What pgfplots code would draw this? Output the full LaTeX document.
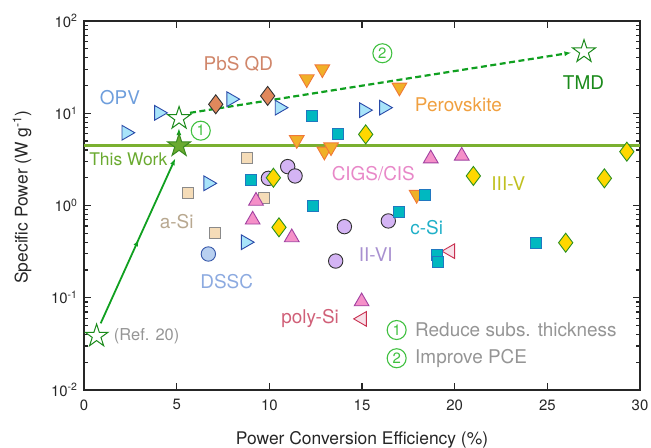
\documentclass[border=0pt]{standalone}
\usepackage{pgfplots}
\pgfplotsset{compat=1.18}
\usepackage{fontspec}
\setmainfont{TeX Gyre Heros}
\usetikzlibrary{arrows.meta}

\pgfdeclareplotmark{pstar}{%
  \pgfpathmoveto{\pgfpointpolar{90}{\pgfplotmarksize}}%
  \pgfpathlineto{\pgfpointpolar{126}{0.382\pgfplotmarksize}}%
  \pgfpathlineto{\pgfpointpolar{162}{\pgfplotmarksize}}%
  \pgfpathlineto{\pgfpointpolar{198}{0.382\pgfplotmarksize}}%
  \pgfpathlineto{\pgfpointpolar{234}{\pgfplotmarksize}}%
  \pgfpathlineto{\pgfpointpolar{270}{0.382\pgfplotmarksize}}%
  \pgfpathlineto{\pgfpointpolar{306}{\pgfplotmarksize}}%
  \pgfpathlineto{\pgfpointpolar{342}{0.382\pgfplotmarksize}}%
  \pgfpathlineto{\pgfpointpolar{18}{\pgfplotmarksize}}%
  \pgfpathlineto{\pgfpointpolar{54}{0.382\pgfplotmarksize}}%
  \pgfpathclose
  \pgfusepathqfillstroke
}

\definecolor{opvF}{HTML}{A8E4FA}\definecolor{opvE}{HTML}{2A4AA8}\definecolor{opvT}{HTML}{6E9EDC}
\definecolor{dssF}{HTML}{B8D0F0}\definecolor{dssE}{HTML}{3556A8}\definecolor{dssT}{HTML}{8CAAE0}
\definecolor{pbsF}{HTML}{E0885C}\definecolor{pbsE}{HTML}{333333}\definecolor{pbsT}{HTML}{D0866A}
\definecolor{perF}{HTML}{F0B028}\definecolor{perE}{HTML}{F07838}\definecolor{perT}{HTML}{F0A040}
\definecolor{csiF}{HTML}{00B8C0}\definecolor{csiE}{HTML}{2078C0}\definecolor{csiT}{HTML}{20B0C8}
\definecolor{asiF}{HTML}{F5DCB8}\definecolor{asiE}{HTML}{8A8A8A}\definecolor{asiT}{HTML}{B8A890}
\definecolor{cigF}{HTML}{F590C8}\definecolor{cigE}{HTML}{A040A0}\definecolor{cigT}{HTML}{E888C8}
\definecolor{iviF}{HTML}{D4B4F4}\definecolor{iviE}{HTML}{303030}\definecolor{iviT}{HTML}{A890D0}
\definecolor{iiiF}{HTML}{FFD700}\definecolor{iiiE}{HTML}{2A9020}\definecolor{iiiT}{HTML}{C0C020}
\definecolor{psiF}{HTML}{F8E0E8}\definecolor{psiE}{HTML}{C83050}\definecolor{psiT}{HTML}{D06078}
\definecolor{twF}{HTML}{6AAA30}\definecolor{twE}{HTML}{3A8A20}\definecolor{twL}{HTML}{7AB030}
\definecolor{tmd}{HTML}{1A8A1A}\definecolor{arr}{HTML}{10A020}\definecolor{circ}{HTML}{40C040}
\definecolor{gtxt}{HTML}{959595}\definecolor{axc}{HTML}{262626}

\begin{document}
\begin{tikzpicture}
\begin{axis}[
  scale only axis, width=556bp, height=369bp,
  xmin=0, xmax=30, ymode=log, ymin=0.01, ymax=100,
  xtick={0,5,10,15,20,25,30},
  xticklabels={0,5,10,15,20,25,30},
  ytick={0.01,0.1,1,10,100},
  yticklabels={10\textsuperscript{-2},10\textsuperscript{-1},10\textsuperscript{0},10\textsuperscript{1},10\textsuperscript{2}},
  tick align=inside,
  major tick length=7bp, minor tick length=4bp,
  axis line style={line width=1.8bp, color=axc},
  every tick/.style={line width=1.1bp, color=axc},
  tick label style={font=\fontsize{15}{18}\selectfont, text=axc},
  xticklabel style={yshift=-6bp},
  yticklabel style={xshift=-3bp},
  xlabel={Power Conversion Efficiency (\%)},
  ylabel={Specific Power (W g\textsuperscript{-1})},
  label style={font=\fontsize{17.5}{20}\selectfont, text=axc},
  xlabel style={at={(axis description cs:0.5,-0.135)}, anchor=center},
  ylabel style={at={(axis description cs:-0.1115,0.523)}, anchor=center},
  clip=false,
  mark options={solid},
]
% This Work line
\addplot[twL, line width=3bp] coordinates {(0,4.45) (30,4.45)};
% arrows
\addplot[arr, line width=1.8bp, -{Latex[length=7bp,width=5bp]}] coordinates {(0.9,0.0528) (2.95,0.43)};
\addplot[arr, line width=1.8bp, -{Latex[length=7bp,width=5bp]}] coordinates {(2.85,0.39) (4.93,3.25)};
\addplot[arr, line width=1.8bp, -{Latex[length=7bp,width=5bp]}] coordinates {(5.12,4.6) (5.12,6.9)};
\addplot[arr, line width=2.2bp, dash pattern=on 6bp off 3.5bp, -{Latex[length=7bp,width=5bp]}]
  coordinates {(5.72,10.1) (26.3,45.4)};

% a-Si
\addplot[only marks, mark=square*, mark size=5.5bp, mark options={fill=asiF, draw=asiE, line width=0.9bp}]
  coordinates {(8.78,3.3) (5.6,1.38) (9.71,1.22) (7.07,0.51)};
% DSSC
\addplot[only marks, mark=*, mark size=7.2bp, mark options={fill=dssF, draw=dssE, line width=0.9bp}]
  coordinates {(6.71,0.298)};
% II-VI
\addplot[only marks, mark=*, mark size=7.2bp, mark options={fill=iviF, draw=iviE, line width=0.9bp}]
  coordinates {(9.95,1.97) (10.99,2.64) (11.39,2.09) (14.05,0.59) (13.58,0.25) (16.42,0.68)};
% OPV
\addplot[only marks, mark=triangle*, mark size=8.5bp, mark options={rotate=-90, fill=opvF, draw=opvE, line width=0.9bp}]
  coordinates {(2.28,6.15) (4.04,10.1) (7.94,14.2) (10.55,11.5) (15.1,10.8) (16.18,11.5) (6.7,1.74) (8.72,0.40)};
% PbS QD
\addplot[only marks, mark=diamond*, mark size=9.5bp, mark options={fill=pbsF, draw=pbsE, line width=0.9bp}]
  coordinates {(7.11,12.5) (9.91,15.4)};
% CIGS/CIS
\addplot[only marks, mark=triangle*, mark size=8.5bp, mark options={fill=cigF, draw=cigE, line width=0.9bp}]
  coordinates {(9.28,1.12) (9.1,0.70) (11.21,0.45) (18.71,3.22) (20.38,3.45) (14.98,0.091)};
% poly-Si
\addplot[only marks, mark=triangle*, mark size=8.5bp, mark options={rotate=90, fill=psiF, draw=psiE, line width=0.9bp}]
  coordinates {(15.01,0.059) (19.77,0.32)};
% Perovskite
\addplot[only marks, mark=triangle*, mark size=8.5bp, mark options={rotate=180, fill=perF, draw=perE, line width=0.9bp}]
  coordinates {(12.02,23.5) (12.86,30.1) (17.02,19.1) (11.48,5.15) (12.97,3.86) (13.33,4.3) (17.95,1.31)};
% c-Si
\addplot[only marks, mark=square*, mark size=5.5bp, mark options={fill=csiF, draw=csiE, line width=0.9bp}]
  coordinates {(12.29,9.4) (13.69,5.9) (9.0,1.89) (12.38,1.0) (18.4,1.3) (17.0,0.86) (19.03,0.29) (19.12,0.246) (24.39,0.395)};
% III-V
\addplot[only marks, mark=diamond*, mark size=9.5bp, mark options={fill=iiiF, draw=iiiE, line width=0.9bp}]
  coordinates {(10.22,2.0) (15.2,5.9) (10.52,0.58) (21.01,2.09) (28.08,1.97) (29.29,3.83) (25.99,0.395)};
% stars
\addplot[only marks, mark=pstar, mark size=12bp, mark options={fill=white, draw=tmd, line width=1bp}]
  coordinates {(5.13,8.8) (0.68,0.0385) (26.98,46.5)};
\addplot[only marks, mark=pstar, mark size=12bp, mark options={fill=twF, draw=twE, line width=1bp}]
  coordinates {(5.13,4.45)};

% labels
\node[font=\fontsize{19}{22}\selectfont, text=opvT] at (axis cs:1.94,14.6) {OPV};
\node[font=\fontsize{19}{22}\selectfont, text=pbsT] at (axis cs:8.33,33.9) {PbS QD};
\node[font=\fontsize{17.5}{20}\selectfont, text=twF] at (axis cs:2.39,3.17) {This Work};
\node[font=\fontsize{19}{22}\selectfont, text=tmd] at (axis cs:26.95,21.4) {TMD};
\node[font=\fontsize{19}{22}\selectfont, text=perT] at (axis cs:20.2,12.5) {Perovskite};
\node[font=\fontsize{19}{22}\selectfont, text=cigT] at (axis cs:15.61,2.23) {CIGS/CIS};
\node[font=\fontsize{19}{22}\selectfont, text=iiiT] at (axis cs:22.9,1.74) {III-V};
\node[font=\fontsize{19}{22}\selectfont, text=asiT] at (axis cs:5.0,0.667) {a-Si};
\node[font=\fontsize{19}{22}\selectfont, text=csiT] at (axis cs:18.49,0.58) {c-Si};
\node[font=\fontsize{19}{22}\selectfont, text=dssT] at (axis cs:7.70,0.149) {DSSC};
\node[font=\fontsize{19}{22}\selectfont, text=iviT] at (axis cs:15.74,0.29) {II-VI};
\node[font=\fontsize{19}{22}\selectfont, text=psiT] at (axis cs:12.2,0.0598) {poly-Si};
\node[font=\fontsize{16.5}{19}\selectfont, text=gtxt] at (axis cs:3.38,0.0385) {(Ref. 20)};
% circled numbers
\node[circle, draw=circ, line width=1.1bp, text=circ, inner sep=0pt, minimum size=19bp, font=\fontsize{15}{15}\selectfont] at (axis cs:6.30,6.47) {1};
\node[circle, draw=circ, line width=1.1bp, text=circ, inner sep=0pt, minimum size=19bp, font=\fontsize{15}{15}\selectfont] at (axis cs:16.1,44.7) {2};
\node[circle, draw=circ, line width=1.1bp, text=circ, inner sep=0pt, minimum size=19bp, font=\fontsize{15}{15}\selectfont] at (axis cs:16.87,0.0447) {1};
\node[circle, draw=circ, line width=1.1bp, text=circ, inner sep=0pt, minimum size=19bp, font=\fontsize{15}{15}\selectfont] at (axis cs:16.87,0.0221) {2};
\node[anchor=west, inner sep=0pt, font=\fontsize{19}{22}\selectfont, text=gtxt] at (axis cs:17.86,0.0447) {Reduce subs. thickness};
\node[anchor=west, inner sep=0pt, font=\fontsize{19}{22}\selectfont, text=gtxt] at (axis cs:17.86,0.0221) {Improve PCE};
\end{axis}
\pgfresetboundingbox
\path[use as bounding box] (-84bp,-58bp) rectangle (567bp,390bp);
\end{tikzpicture}
\end{document}
